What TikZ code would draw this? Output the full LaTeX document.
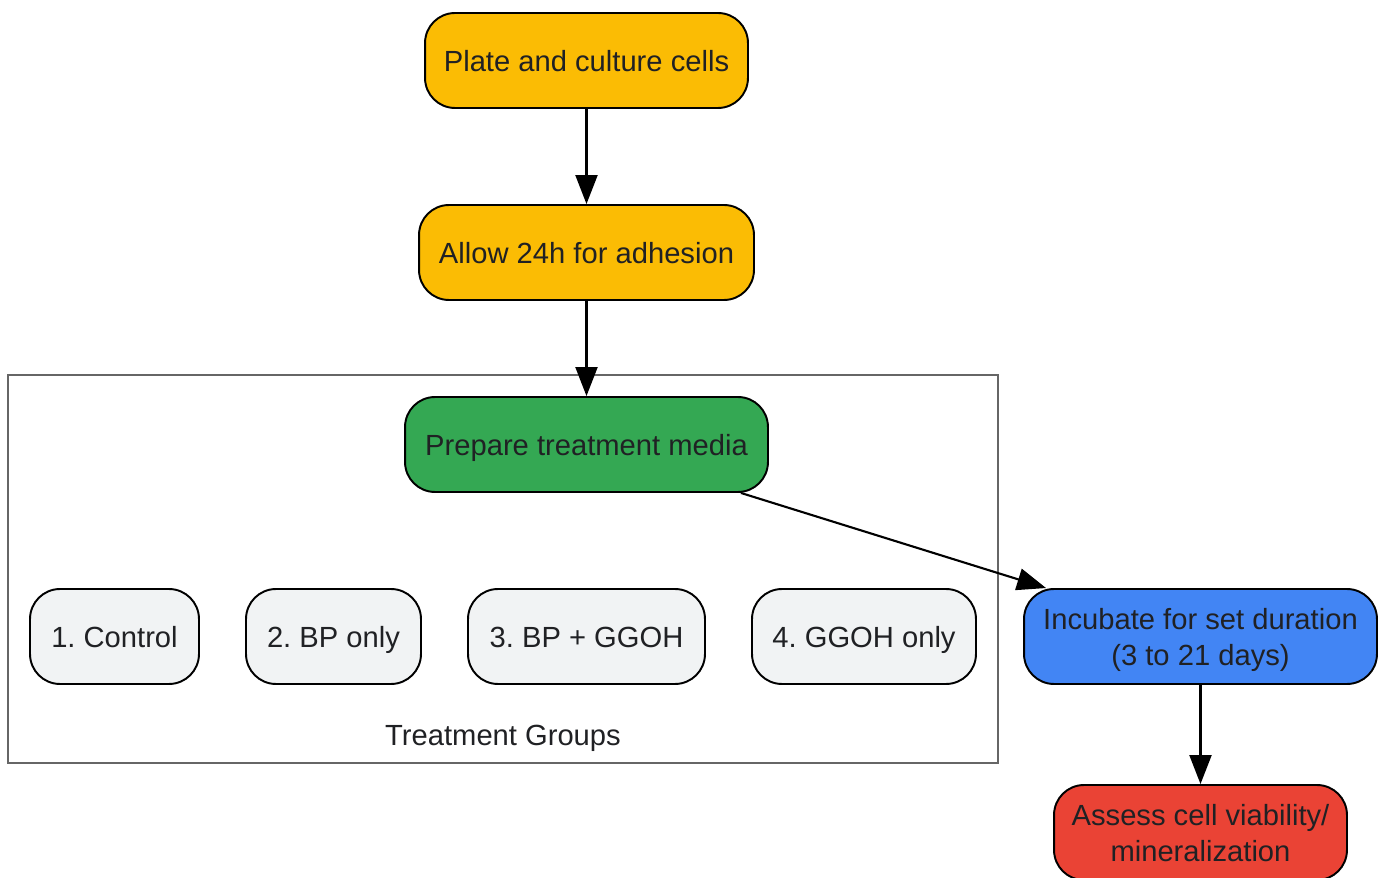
\documentclass[tikz,border=0pt]{standalone}
\usepackage{fontspec}
\setmainfont{Liberation Sans}
\frenchspacing
\usetikzlibrary{arrows.meta,calc}
\definecolor{stepyellow}{HTML}{FBBC04}
\definecolor{stepgreen}{HTML}{34A853}
\definecolor{stepblue}{HTML}{4285F4}
\definecolor{stepred}{HTML}{EA4335}
\definecolor{grouplight}{HTML}{F1F3F4}
\definecolor{textdark}{HTML}{202124}
\definecolor{groupedge}{HTML}{666666}
\tikzset{
  stepbox/.style={draw=black, line width=1.1pt, rounded corners=0.6cm,
    minimum height=1.9cm, align=center, text=textdark, text depth=0pt,
    font=\fontsize{16.6}{20.5}\selectfont},
  oneline/.style={text height=12.2pt},
  flow/.style={-{Triangle[length=0.58cm,width=0.44cm]}, line width=1.2pt},
  groupline/.style={draw=groupedge, line width=1.1pt},
}
\begin{document}
\begin{tikzpicture}[x=0.02cm,y=-0.02cm]
   \useasboundingbox (0,0) rectangle (1384,878);
   % cluster
   \draw[groupline] (8,375) rectangle (998,763);
   \node[oneline, text depth=0pt, text=textdark, font=\fontsize{16.6}{20.5}\selectfont] (grouplabel) at (503,735) {Treatment Groups};
   % main steps
   \node[stepbox, oneline, fill=stepyellow, minimum width=6.46cm] (plate) at (586.5,60.5) {Plate and culture cells};
   \node[stepbox, oneline, fill=stepyellow, minimum width=6.70cm] (allow) at (586.5,252.5) {Allow 24h for adhesion};
   \node[stepbox, oneline, fill=stepgreen, minimum width=7.26cm] (prep) at (586.5,444.5) {Prepare treatment media};
   \node[stepbox, fill=stepblue, minimum width=7.06cm] (incub) at (1200.5,636.5) {Incubate for set duration\\(3 to 21 days)};
   \node[stepbox, fill=stepred, minimum width=5.86cm] (assess) at (1200.5,832.5) {Assess cell viability/\\mineralization};
   % treatment groups
   \node[stepbox, oneline, fill=grouplight, minimum width=3.38cm] (ctrl) at (114.5,636.5) {1. Control};
   \node[stepbox, oneline, fill=grouplight, minimum width=3.50cm] (bponly) at (333.5,636.5) {2. BP only};
   \node[stepbox, oneline, fill=grouplight, minimum width=4.74cm] (bpggoh) at (586.5,636.5) {3. BP + GGOH};
   \node[stepbox, oneline, fill=grouplight, minimum width=4.48cm] (ggohonly) at (864,636.5) {4. GGOH only};
   % connectors
   \draw[flow] (plate) -- (allow);
   \draw[flow] (allow) -- (prep);
   \draw[flow] ($(prep.south east)+(-28,0)$) -- ($(incub.north west)+(23,0)$);
   \draw[flow] (incub) -- (assess);
\end{tikzpicture}
\end{document}
